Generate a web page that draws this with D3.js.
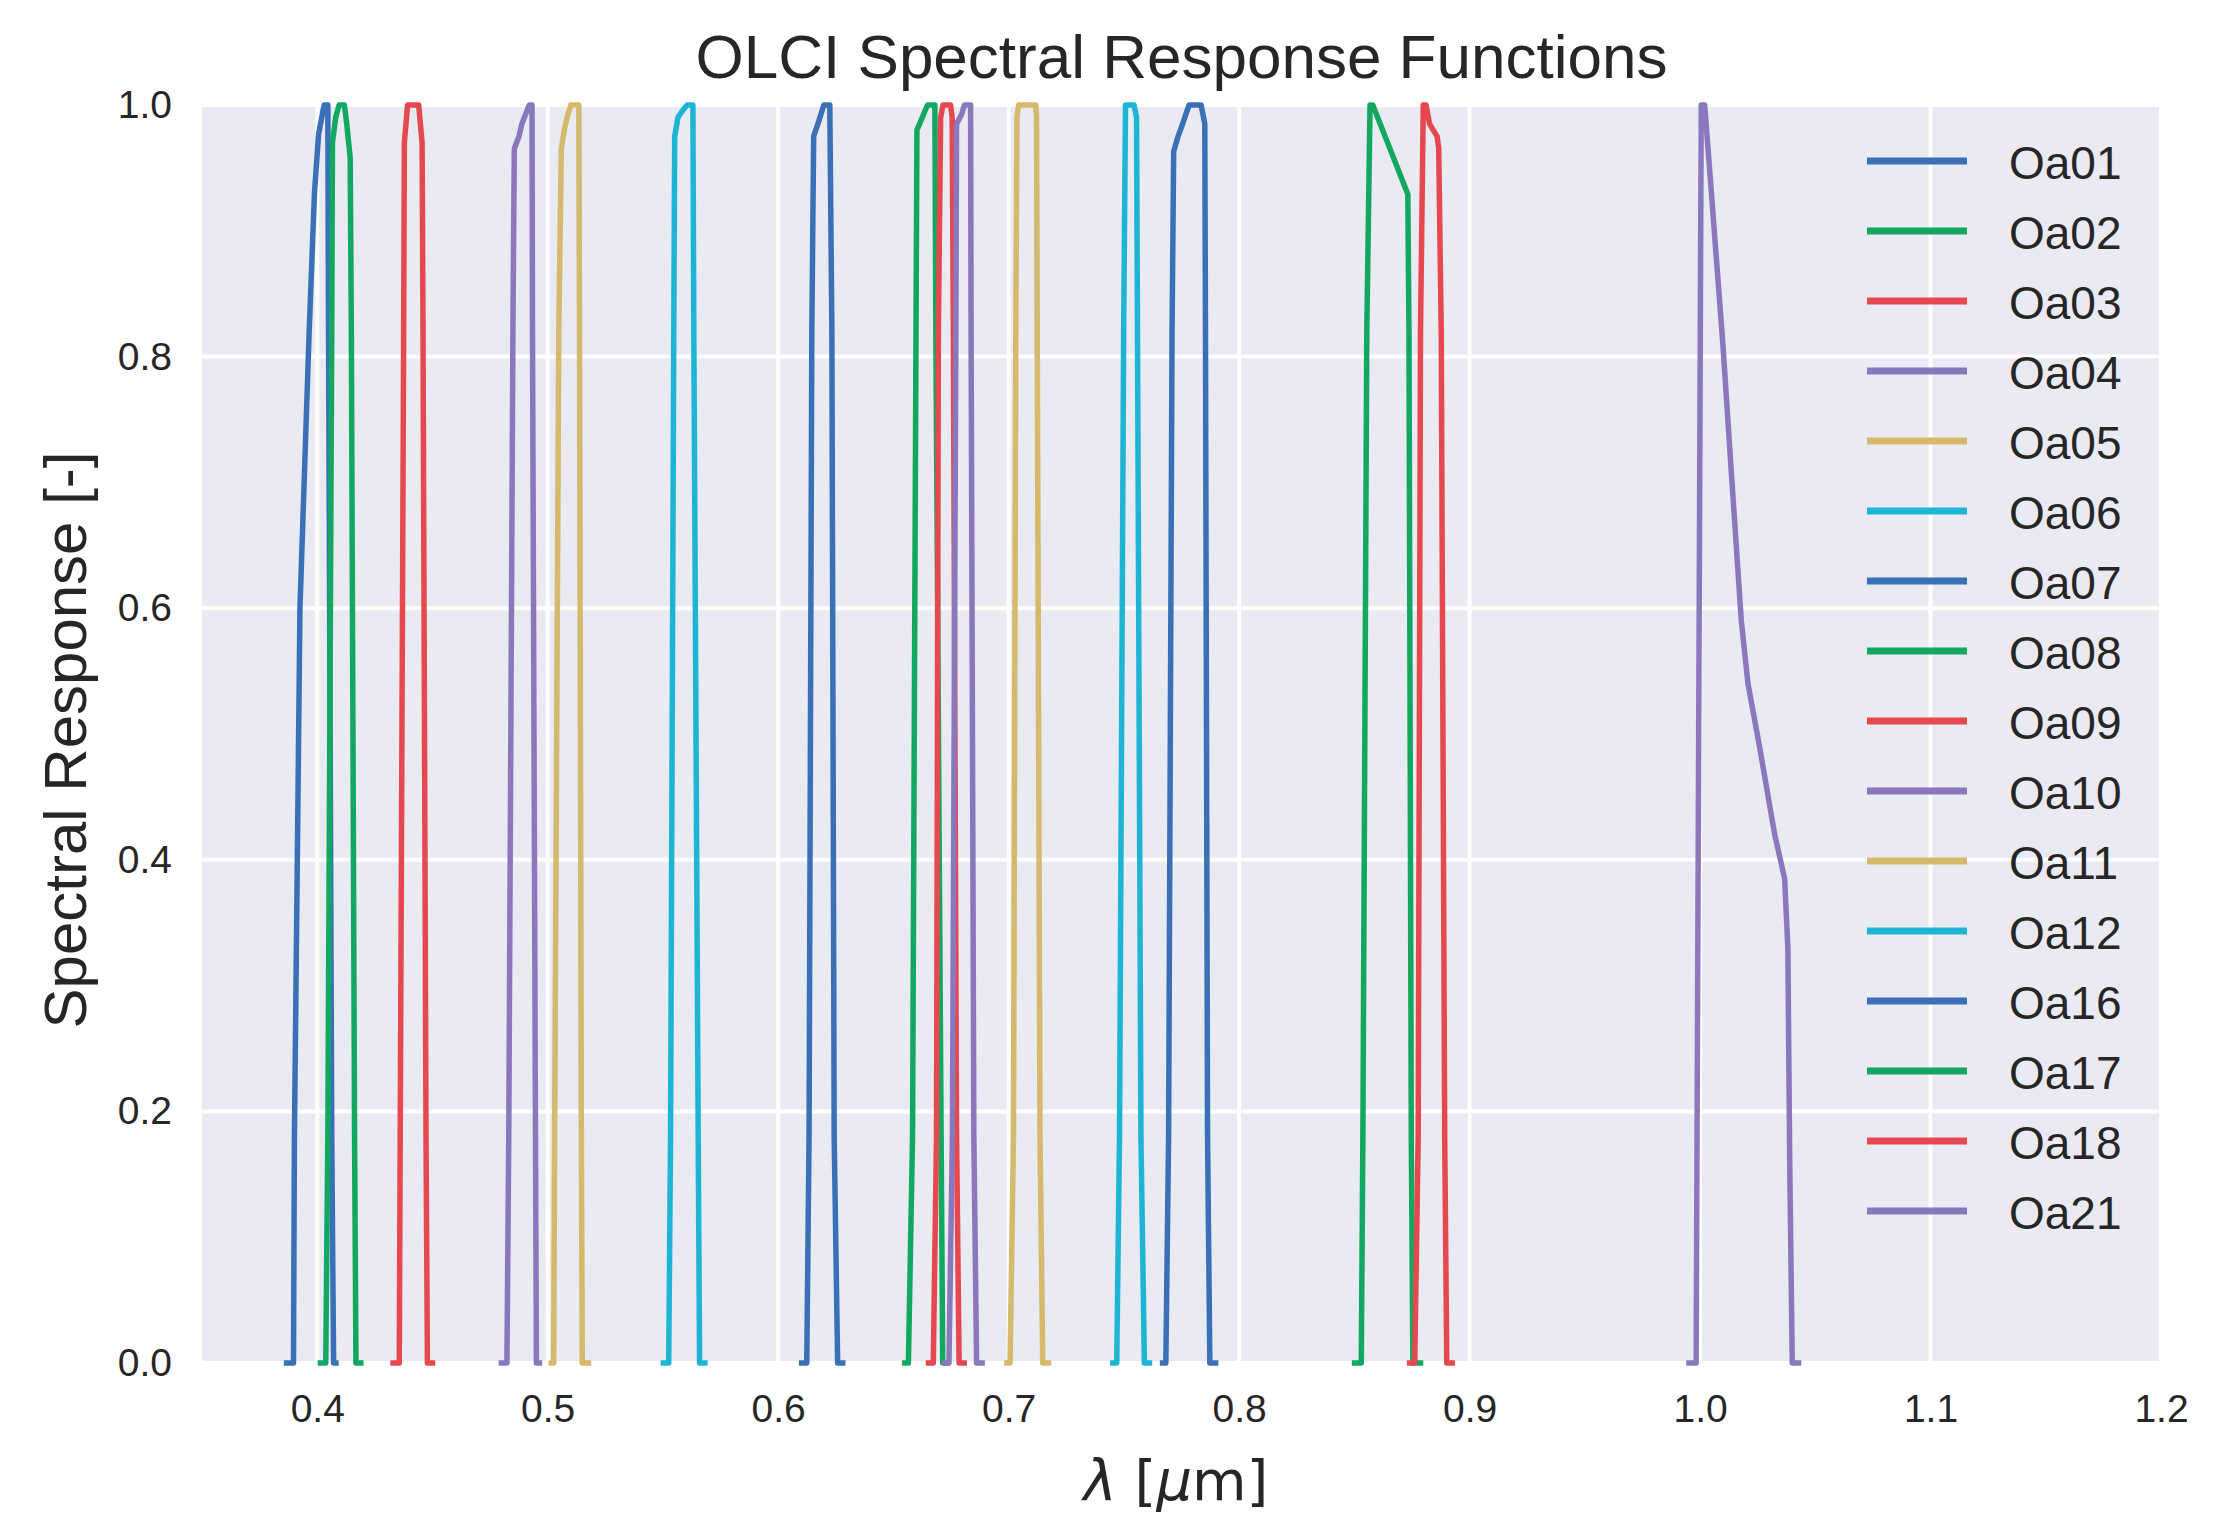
<!DOCTYPE html>
<html>
<head>
<meta charset="utf-8">
<script src="https://cdn.jsdelivr.net/npm/d3@7"></script>
<style>
  body { margin: 0; background: #fff; }
  text { font-family: "Liberation Sans", Arial, sans-serif; fill: #262626; }
</style>
</head>
<body>
<div id="chart"></div>
<script>
// band names, in legend order
const bandNames = ["Oa01", "Oa02", "Oa03", "Oa04", "Oa05", "Oa06", "Oa07", "Oa08",
                   "Oa09", "Oa10", "Oa11", "Oa12", "Oa16", "Oa17", "Oa18", "Oa21"];

// spectral response curves, [wavelength in um, response]
const oa01 = [[0.3855,0],[0.3897,0],[0.3901,0.18],[0.3925,0.60],[0.3965,0.82],[0.3988,0.93],[0.4006,0.977],[0.4030,1.0],[0.4046,1.0],[0.4049,0.82],[0.4063,0.18],[0.4071,0],[0.4093,0]];
const oa02 = [[0.4002,0],[0.4037,0],[0.4046,0.18],[0.4063,0.82],[0.4066,0.97],[0.4080,0.99],[0.4095,1.0],[0.4118,1.0],[0.4128,0.985],[0.4143,0.958],[0.4148,0.82],[0.4162,0.18],[0.4168,0],[0.4201,0]];
const oa03 = [[0.4317,0],[0.4356,0],[0.4360,0.18],[0.4375,0.82],[0.4378,0.97],[0.4392,1.0],[0.4440,1.0],[0.4455,0.97],[0.4459,0.82],[0.4472,0.18],[0.4478,0],[0.4512,0]];
const oa04 = [[0.4787,0],[0.4823,0],[0.4831,0.18],[0.4849,0.82],[0.4855,0.965],[0.4875,0.975],[0.4888,0.985],[0.4920,1.0],[0.4932,1.0],[0.4934,0.82],[0.4947,0.18],[0.4951,0],[0.4976,0]];
const oa05 = [[0.5004,0],[0.5026,0],[0.5030,0.18],[0.5048,0.82],[0.5059,0.965],[0.5072,0.98],[0.5084,0.99],[0.5100,1.0],[0.5135,1.0],[0.5138,0.82],[0.5146,0.18],[0.5150,0],[0.5189,0]];
const oa06 = [[0.5490,0],[0.5525,0],[0.5533,0.18],[0.5547,0.82],[0.5551,0.975],[0.5565,0.99],[0.5583,0.995],[0.5605,1.0],[0.5630,1.0],[0.5634,0.82],[0.5653,0.18],[0.5659,0],[0.5694,0]];
const oa07 = [[0.6090,0],[0.6124,0],[0.6134,0.18],[0.6146,0.82],[0.6154,0.975],[0.6176,0.987],[0.6198,1.0],[0.6224,1.0],[0.6233,0.82],[0.6243,0.18],[0.6258,0],[0.6292,0]];
const oa08 = [[0.6537,0],[0.6565,0],[0.6583,0.18],[0.6598,0.82],[0.6602,0.98],[0.6625,0.99],[0.6648,1.0],[0.6680,1.0],[0.6684,0.82],[0.6707,0.18],[0.6714,0],[0.6744,0]];
const oa09 = [[0.6640,0],[0.6673,0],[0.6687,0.18],[0.6695,0.82],[0.6705,0.99],[0.6715,1.0],[0.6748,1.0],[0.6755,0.99],[0.6760,0.82],[0.6774,0.18],[0.6785,0],[0.6819,0]];
const oa10 = [[0.6711,0],[0.6741,0],[0.6756,0.18],[0.6771,0.82],[0.6774,0.985],[0.6797,0.993],[0.6808,1.0],[0.6835,1.0],[0.6837,0.82],[0.6849,0.18],[0.6861,0],[0.6897,0]];
const oa11 = [[0.6981,0],[0.7006,0],[0.7021,0.18],[0.7031,0.82],[0.7036,0.99],[0.7043,1.0],[0.7118,1.0],[0.7121,0.99],[0.7124,0.82],[0.7136,0.18],[0.7148,0],[0.7185,0]];
const oa12 = [[0.7440,0],[0.7469,0],[0.7481,0.18],[0.7499,0.82],[0.7507,1.0],[0.7544,1.0],[0.7555,0.99],[0.7559,0.82],[0.7574,0.18],[0.7589,0],[0.7623,0]];
const oa16 = [[0.7656,0],[0.7682,0],[0.7694,0.18],[0.7709,0.82],[0.7716,0.963],[0.7735,0.975],[0.7753,0.984],[0.7783,1.0],[0.7835,1.0],[0.7851,0.985],[0.7854,0.82],[0.7863,0.18],[0.7873,0],[0.7910,0]];
const oa17 = [[0.8489,0],[0.8530,0],[0.8537,0.18],[0.8554,0.82],[0.8568,1.0],[0.8580,1.0],[0.8732,0.929],[0.8737,0.82],[0.8747,0.18],[0.8754,0],[0.8799,0]];
const oa18 = [[0.8728,0],[0.8762,0],[0.8777,0.18],[0.8787,0.82],[0.8799,1.0],[0.8811,1.0],[0.8826,0.985],[0.8859,0.975],[0.8866,0.966],[0.8877,0.82],[0.8892,0.18],[0.8901,0],[0.8937,0]];
const oa21 = [[0.9940,0],[0.9983,0],[1.0005,1.0],[1.0020,1.0],[1.0041,0.95],[1.0099,0.81],[1.0135,0.71],[1.0179,0.59],[1.0208,0.54],[1.0258,0.49],[1.0324,0.42],[1.0367,0.385],[1.0381,0.33],[1.0389,0.16],[1.0400,0],[1.0439,0]];

const curves = [oa01, oa02, oa03, oa04, oa05, oa06, oa07, oa08, oa09, oa10, oa11, oa12, oa16, oa17, oa18, oa21];

// axis ticks
const xTicks = [0.4, 0.5, 0.6, 0.7, 0.8, 0.9, 1.0, 1.1, 1.2];
const yTicks = [0.0, 0.2, 0.4, 0.6, 0.8, 1.0];

// colour cycle (seaborn "deep", a bit brighter like the picture)
const palette = ["#3a70b6", "#12a862", "#e5484f", "#8a78bd", "#d5b96c", "#1eb5d5"];

let width = 2214;
let height = 1536;
const margin = { top: 105, right: 53, bottom: 173, left: 202 };

const x = d3.scaleLinear().domain([0.35, 1.2]).range([margin.left, width - margin.right]);
const y = d3.scaleLinear().domain([0, 1]).range([height - margin.bottom, margin.top]);

const svg = d3.select('#chart')
  .append('svg')
    .attr('width', width)
    .attr('height', height);

svg.append('rect')
  .attr('width', width)
  .attr('height', height)
  .attr('fill', '#fff');

// plot background
svg.append('rect')
  .attr('x', x(0.35))
  .attr('y', y(1))
  .attr('width', x(1.2) - x(0.35))
  .attr('height', y(0) - y(1))
  .attr('fill', '#eaeaf2');

// white grid
svg.append('g')
  .selectAll('line')
  .data(xTicks)
  .join('line')
    .attr('x1', d => x(d)).attr('x2', d => x(d))
    .attr('y1', y(0)).attr('y2', y(1))
    .attr('stroke', '#fff').attr('stroke-width', 4);

svg.append('g')
  .selectAll('line')
  .data(yTicks)
  .join('line')
    .attr('x1', x(0.35)).attr('x2', x(1.2))
    .attr('y1', d => y(d)).attr('y2', d => y(d))
    .attr('stroke', '#fff').attr('stroke-width', 4);

// axes, no spines or tick marks (darkgrid style)
const xAxis = svg.append('g')
  .attr('transform', `translate(0, ${y(0)})`)
  .call(d3.axisBottom(x).tickValues(xTicks).tickFormat(d3.format('.1f')).tickSize(0).tickPadding(31));

const yAxis = svg.append('g')
  .attr('transform', `translate(${x(0.35)}, 0)`)
  .call(d3.axisLeft(y).tickValues(yTicks).tickFormat(d3.format('.1f')).tickSize(0).tickPadding(30));

[xAxis, yAxis].forEach(g => {
  g.select('.domain').remove();
  g.selectAll('text')
    .style('font-family', '"Liberation Sans", Arial, sans-serif')
    .style('font-size', '39px')
    .attr('fill', '#333');
});

// curves
const lineGen = d3.line()
  .x(d => x(d[0]))
  .y(d => y(d[1]));

svg.append('g')
  .selectAll('path')
  .data(curves)
  .join('path')
    .attr('d', lineGen)
    .attr('fill', 'none')
    .attr('stroke', (_, i) => palette[i % palette.length])
    .attr('stroke-width', 5.5)
    .attr('stroke-linejoin', 'round');

// legend
const legend = svg.append('g')
  .attr('transform', 'translate(1867, 161)');

const rows = legend.selectAll('g')
  .data(bandNames)
  .join('g')
    .attr('transform', (_, i) => `translate(0, ${i * 70})`);

rows.append('line')
  .attr('x1', 0).attr('x2', 100)
  .attr('stroke', (_, i) => palette[i % palette.length])
  .attr('stroke-width', 7);

rows.append('text')
  .attr('x', 142)
  .attr('y', 18)
  .style('font-size', '46px')
  .text(d => d);

// title
svg.append('text')
  .attr('x', (x(0.35) + x(1.2)) / 2)
  .attr('y', 78)
  .attr('text-anchor', 'middle')
  .style('font-size', '62px')
  .text('OLCI Spectral Response Functions');

// x label, mathtext style
const xl = svg.append('text')
  .attr('x', 1176)
  .attr('y', 1500)
  .attr('text-anchor', 'middle')
  .style('font-family', '"DejaVu Sans", sans-serif')
  .style('font-size', '56px');
xl.append('tspan').style('font-style', 'italic').text('λ');
xl.append('tspan').text(' [');
xl.append('tspan').style('font-style', 'italic').text('μ');
xl.append('tspan').text('m]');

// y label
svg.append('text')
  .attr('transform', 'translate(86, 740) rotate(-90)')
  .attr('text-anchor', 'middle')
  .style('font-size', '60px')
  .text('Spectral Response [-]');
</script>
</body>
</html>
